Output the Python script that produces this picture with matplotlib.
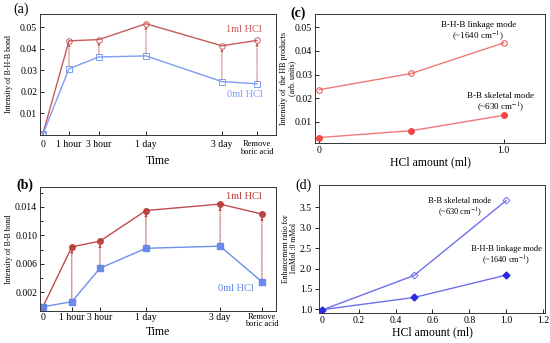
import matplotlib
matplotlib.use("Agg")
import matplotlib.pyplot as plt
from matplotlib.ticker import MultipleLocator

plt.rcParams['font.family'] = ['Liberation Serif', 'DejaVu Serif']
plt.rcParams['mathtext.fontset'] = 'stix'

# ---------------- data ----------------
time_labels = ["0", "1 hour", "3 hour", "1 day", "3 day", "Remove\nboric acid"]
time_pos_a = [0, 1.0, 2.15, 3.96, 6.88, 8.23]
time_pos_b = [0, 1.11, 2.19, 3.96, 6.81, 8.42]

bhb_1ml = [0.0005, 0.0437, 0.0443, 0.0517, 0.0414, 0.0439]
bhb_0ml = [0.0003, 0.0307, 0.0362, 0.0367, 0.0247, 0.0237]

bb_1ml = [0.0000, 0.0084, 0.0092, 0.0135, 0.0144, 0.0130]
bb_0ml = [0.0000, 0.0007, 0.0054, 0.0082, 0.0085, 0.0035]

hcl_amount = [0.0, 0.5, 1.0]
hb_linkage = [0.0236, 0.0305, 0.0434]
hb_skeletal = [0.0034, 0.0063, 0.0128]

ratio_skeletal = [0.98, 1.83, 3.67]
ratio_linkage = [0.99, 1.29, 1.84]

RED_A = "#c65a5a"
BLUE_A = "#7d9cf2"
RED_B = "#b83838"
BLUE_B = "#5d84ea"
RED_C = "#f04848"
RED_C_LINE = "#f07a7a"
BLUE_D = "#2b2be0"
BLUE_D_LINE = "#6f6ff0"

fig = plt.figure(figsize=(5.5, 3.43), dpi=100)

tick_fs = 7
lab_fs = 8.5
ylab_fs = 5.8


def style(ax, direction='in'):
    ax.tick_params(direction=direction, labelsize=tick_fs, length=3, width=0.6, pad=2)
    ax.tick_params(which='minor', direction=direction, length=2, width=0.6)
    for s in ax.spines.values():
        s.set_linewidth(0.7)
        s.set_color("#333333")


def arrows(ax, xs, lo, hi, color, gap):
    for x, l, h in zip(xs[1:], lo[1:], hi[1:]):
        ax.annotate('', xy=(x, h - gap), xytext=(x, l + gap),
                    arrowprops=dict(arrowstyle='-|>', linestyle=(0, (1, 1.2)),
                                    color=color, lw=0.7, mutation_scale=3.5,
                                    shrinkA=0, shrinkB=0))


# ---------------- (a) ----------------
axa = fig.add_axes([0.0727, 0.607, 0.4291, 0.352])
style(axa)
axa.tick_params(axis='x', pad=4)
axa.plot(time_pos_a, bhb_1ml, color=RED_A, lw=1.0, marker='o', ms=4,
         mfc='none', mec=RED_A, mew=0.7)
axa.plot(time_pos_a, bhb_0ml, color=BLUE_A, lw=1.0, marker='s', ms=4,
         mfc='none', mec=BLUE_A, mew=0.7)
arrows(axa, time_pos_a, bhb_0ml, bhb_1ml, RED_A, 0.0012)
axa.set_xlim(-0.115, 8.96)
axa.set_ylim(-0.0001, 0.0562)
axa.set_yticks([0.01, 0.02, 0.03, 0.04, 0.05])
axa.set_yticklabels(["0.01", "0.02", "0.03", "0.04", "0.05"])
axa.set_xticks(time_pos_a)
axa.set_xticklabels(time_labels)
for t in axa.get_xticklabels()[-1:]:
    t.set_fontsize(6)
    t.set_linespacing(0.9)
axa.set_xlabel("Time", fontsize=lab_fs)
axa.xaxis.set_label_coords(0.5, -0.165)
axa.set_ylabel("Intensity of B-H-B bond", fontsize=ylab_fs)
axa.yaxis.set_label_coords(-0.115, 0.5)
axa.text(0.864, 0.876, "1ml HCl", transform=axa.transAxes, color=RED_A,
         fontsize=7.5, ha='center', va='center')
axa.text(0.868, 0.33, "0ml HCl", transform=axa.transAxes, color=BLUE_A,
         fontsize=7.5, ha='center', va='center')
fig.text(0.025, 0.972, "(a)", fontsize=10, ha='left', va='center')

# ---------------- (b) ----------------
axb = fig.add_axes([0.0727, 0.0933, 0.4291, 0.3615])
style(axb)
axb.tick_params(axis='x', pad=1.5)
axb.plot(time_pos_b, bb_1ml, color=RED_B, lw=1.0, marker='o', ms=4,
         mfc=RED_B, mec=RED_B, alpha=0.9)
axb.plot(time_pos_b, bb_0ml, color=BLUE_B, lw=1.0, marker='s', ms=4,
         mfc=BLUE_B, mec=BLUE_B, alpha=0.9)
arrows(axb, time_pos_b, bb_0ml, bb_1ml, RED_B, 0.00045)
axb.set_xlim(-0.115, 8.96)
axb.set_ylim(-0.0006, 0.0168)
axb.set_yticks([0.002, 0.006, 0.010, 0.014])
axb.set_yticklabels(["0.002", "0.006", "0.010", "0.014"])
axb.yaxis.set_minor_locator(MultipleLocator(0.002))
axb.set_xticks(time_pos_b)
axb.set_xticklabels(time_labels)
for t in axb.get_xticklabels()[-1:]:
    t.set_fontsize(6)
    t.set_linespacing(0.9)
axb.set_xlabel("Time", fontsize=lab_fs)
axb.xaxis.set_label_coords(0.5, -0.125)
axb.set_ylabel("Intensity of B-B bond", fontsize=ylab_fs)
axb.yaxis.set_label_coords(-0.115, 0.5)
axb.text(0.864, 0.92, "1ml HCl", transform=axb.transAxes, color=RED_B,
         fontsize=7.5, ha='center', va='center')
axb.text(0.83, 0.185, "0ml HCl", transform=axb.transAxes, color=BLUE_B,
         fontsize=7.5, ha='center', va='center')
fig.text(0.029, 0.46, "(b)", fontsize=10, ha='left', va='center', fontweight='bold')

# ---------------- (c) ----------------
axc = fig.add_axes([0.5727, 0.5831, 0.4182, 0.3761])
style(axc)
axc.plot(hcl_amount, hb_linkage, color=RED_C_LINE, lw=1.0, marker='o', ms=4,
         mfc='none', mec=RED_C, mew=0.7)
axc.plot(hcl_amount, hb_skeletal, color=RED_C_LINE, lw=1.0, marker='o', ms=4,
         mfc=RED_C, mec=RED_C)
axc.set_xlim(-0.023, 1.224)
axc.set_ylim(0.0011, 0.0556)
axc.set_yticks([0.01, 0.02, 0.03, 0.04, 0.05])
axc.set_yticklabels(["0.01", "0.02", "0.03", "0.04", "0.05"])
axc.set_xticks([0.0, 1.0])
axc.set_xticklabels(["0", "1.0"])
axc.set_xlabel("HCl amount (ml)", fontsize=lab_fs, labelpad=1)
axc.set_ylabel("Intensity of  the HB products\n(arb. units)", fontsize=ylab_fs,
               linespacing=0.95)
axc.yaxis.set_label_coords(-0.083, 0.5)
axc.text(0.71, 0.86, "B-H-B linkage mode\n(~1640 cm$^{-1}$)", transform=axc.transAxes,
         fontsize=6.5, ha='center', va='center', linespacing=1.1)
axc.text(0.805, 0.31, "B-B skeletal mode\n(~630 cm$^{-1}$)", transform=axc.transAxes,
         fontsize=6.5, ha='center', va='center', linespacing=1.1)
fig.text(0.528, 0.96, "(c)", fontsize=10, ha='left', va='center', fontweight='bold')

# ---------------- (d) ----------------
axd = fig.add_axes([0.58, 0.0875, 0.4109, 0.3732])
style(axd)
axd.tick_params(axis='y', direction='out')
axd.plot(hcl_amount, ratio_skeletal, color=BLUE_D_LINE, lw=1.0, marker='D', ms=3.5,
         mfc='none', mec=BLUE_D_LINE, mew=0.7)
axd.plot(hcl_amount, ratio_linkage, color=BLUE_D_LINE, lw=1.0, marker='D', ms=3.5,
         mfc=BLUE_D, mec=BLUE_D)
axd.set_xlim(-0.015, 1.21)
axd.set_ylim(0.91, 4.05)
axd.set_yticks([1.0, 1.5, 2.0, 2.5, 3.0, 3.5])
axd.set_xticks([0.0, 0.2, 0.4, 0.6, 0.8, 1.0, 1.2])
axd.set_xticklabels(["0", "0.2", "0.4", "0.6", "0.8", "1.0", "1.2"])
axd.set_xlabel("HCl amount (ml)", fontsize=lab_fs, labelpad=1)
axd.set_ylabel("Enhancement ratio for\n1mMol :0 mMol", fontsize=5.5,
               linespacing=0.95)
axd.yaxis.set_label_coords(-0.093, 0.5)
axd.text(0.624, 0.82, "B-B skeletal mode\n(~630 cm$^{-1}$)", transform=axd.transAxes,
         fontsize=6, ha='center', va='center', linespacing=1.1)
axd.text(0.83, 0.445, "B-H-B linkage mode\n(~1640 cm$^{-1}$)", transform=axd.transAxes,
         fontsize=6, ha='center', va='center', linespacing=1.1)
fig.text(0.537, 0.46, "(d)", fontsize=10, ha='left', va='center')

fig.savefig("out.png", dpi=100)
